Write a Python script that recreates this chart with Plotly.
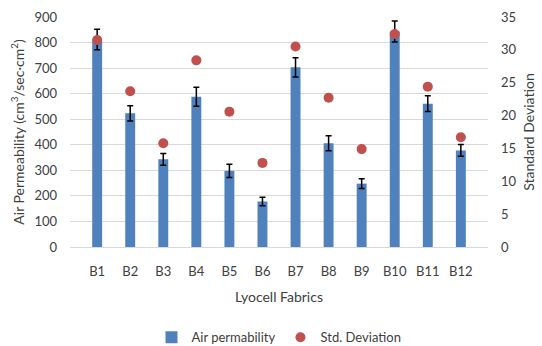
import plotly.graph_objects as go

fabrics = ["B1", "B2", "B3", "B4", "B5", "B6", "B7", "B8", "B9", "B10", "B11", "B12"]
air_perm = [812, 523, 343, 588, 298, 178, 703, 406, 248, 843, 561, 378]
air_perm_err = [40, 30, 23, 37, 26, 17, 38, 29, 19, 41, 31, 23]
std_dev = [31.5, 23.7, 15.8, 28.4, 20.6, 12.8, 30.5, 22.7, 14.9, 32.4, 24.4, 16.7]

font = "Lato, Open Sans, Liberation Sans, Arial, sans-serif"
txt = "#404040"

fig = go.Figure()
fig.add_trace(go.Bar(
    x=fabrics, y=air_perm, name="Air permability",
    marker=dict(color="#4F81BD", line=dict(width=0)),
    width=0.3,
    error_y=dict(type="data", array=air_perm_err, color="black", thickness=1.5, width=3),
))
fig.add_trace(go.Scatter(
    x=fabrics, y=std_dev, name="Std. Deviation", mode="markers", yaxis="y2",
    marker=dict(color="#C0504D", size=10),
))

fig.update_layout(
    width=542, height=346,
    margin=dict(l=70, r=54, t=17, b=99),
    paper_bgcolor="white", plot_bgcolor="white",
    font=dict(family=font, size=13, color=txt),
    showlegend=True,
    legend=dict(orientation="h", x=0.5, xanchor="center",
                yref="container", y=0.025, yanchor="middle",
                font=dict(size=13, color=txt), itemwidth=30, tracegroupgap=10),
    xaxis=dict(
        showgrid=False, showline=True, linecolor="#d9d9d9", ticks="",
        ticklabelstandoff=12, automargin=False,
        tickfont=dict(size=13, color=txt),
        title=dict(text="Lyocell Fabrics", font=dict(size=14, color=txt), standoff=14),
    ),
    yaxis=dict(
        range=[0, 900], dtick=100, showgrid=True, gridcolor="#d9d9d9", gridwidth=1,
        zeroline=False, showline=False, ticks="", automargin=False,
        ticklabelstandoff=12,
        tickfont=dict(size=13, color=txt),
        title=dict(text="Air Permeability (cm<sup>3</sup>/sec·cm<sup>2</sup>)",
                   font=dict(size=14, color=txt), standoff=6),
    ),
    yaxis2=dict(
        range=[0, 35], dtick=5, overlaying="y", side="right", showgrid=False,
        zeroline=False, showline=False, ticks="", automargin=False,
        ticklabelstandoff=12,
        tickfont=dict(size=13, color=txt),
        title=dict(text="Standard Deviation", font=dict(size=14, color=txt), standoff=8),
    ),
)

fig.write_html("out.html")
